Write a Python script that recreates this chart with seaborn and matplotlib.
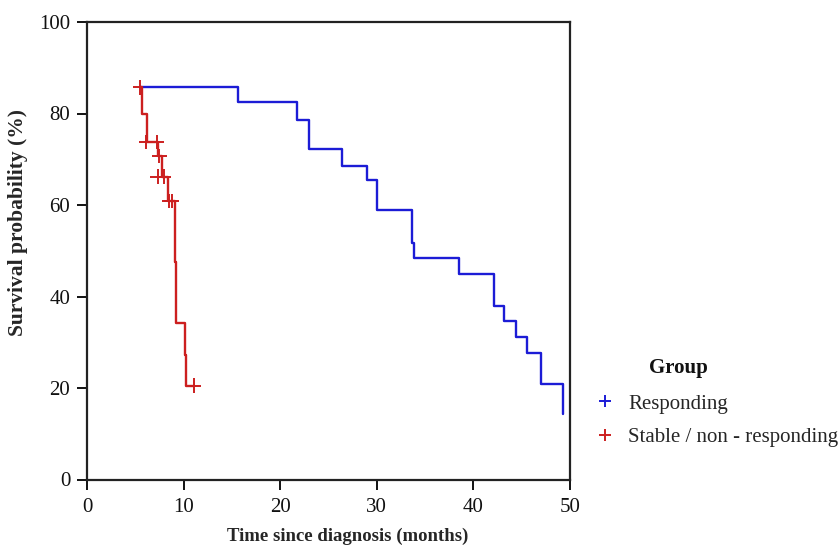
import numpy as np
import pandas as pd
import matplotlib
matplotlib.use("Agg")
import matplotlib.pyplot as plt
from matplotlib.lines import Line2D
import seaborn as sns

# ---- data ----
resp_time = [5.6, 15.6, 21.7, 23.0, 26.4, 29.0, 30.0, 33.6, 33.8, 38.5, 42.1, 43.2, 44.4, 45.5, 47.0, 49.3]
resp_surv = [85.7, 82.6, 78.6, 72.3, 68.6, 65.5, 58.8, 51.8, 48.4, 45.0, 38.0, 34.6, 31.1, 27.7, 20.9, 14.4]

stab_time = [5.5, 5.7, 6.2, 7.4, 7.75, 8.4, 9.1, 9.25, 10.1, 10.3, 11.05]
stab_surv = [85.7, 80.0, 73.8, 70.7, 66.2, 60.9, 47.6, 34.3, 27.2, 20.5, 20.5]

# censored observations (+ marks)
resp_cens_time = []
resp_cens_surv = []
stab_cens_time = [5.5, 6.1, 7.2, 7.5, 7.3, 7.95, 8.5, 8.75, 11.05]
stab_cens_surv = [85.7, 73.8, 73.8, 70.7, 66.2, 66.2, 60.9, 60.9, 20.5]

groups = ["Responding", "Stable / non - responding"]
colors = {"Responding": "#1c1cd6", "Stable / non - responding": "#cc1f1f"}

x_ticks = [0, 10, 20, 30, 40, 50]
y_ticks = [0, 20, 40, 60, 80, 100]

curve = pd.DataFrame({
    "time": resp_time + stab_time,
    "surv": resp_surv + stab_surv,
    "group": [groups[0]] * len(resp_time) + [groups[1]] * len(stab_time),
})
cens = pd.DataFrame({
    "time": resp_cens_time + stab_cens_time,
    "surv": resp_cens_surv + stab_cens_surv,
    "group": [groups[0]] * len(resp_cens_time) + [groups[1]] * len(stab_cens_time),
})

sns.set_style("white")
plt.rcParams["font.family"] = ["Liberation Serif", "DejaVu Serif"]

W, H = 838, 547
fig = plt.figure(figsize=(W / 100, H / 100), dpi=100)
ax = fig.add_axes([87 / W, 1 - 479.5 / H, (570 - 87) / W, (479.5 - 22) / H])

sns.lineplot(data=curve, x="time", y="surv", hue="group", hue_order=groups,
             palette=colors, estimator=None, sort=False, drawstyle="steps-post",
             linewidth=1.7, legend=False, ax=ax)
sns.scatterplot(data=cens, x="time", y="surv", hue="group", hue_order=groups,
                palette=colors, marker="+", s=110, linewidth=1.4, legend=False, ax=ax)

ax.set_xlim(0, 50)
ax.set_ylim(0, 100)
ax.set_xticks(x_ticks)
ax.set_yticks(y_ticks)
ax.tick_params(axis="both", direction="out", length=7, width=1.3, color="black",
               labelsize=15, bottom=True, left=True, labelcolor="#111111")
ax.tick_params(axis="y", pad=5)
ax.tick_params(axis="x", pad=6)
for s in ax.spines.values():
    s.set_visible(True)
    s.set_color("#222222")
    s.set_linewidth(1.6)

ax.set_xlabel("Time since diagnosis (months)", fontsize=13.5, fontweight="bold")
ax.xaxis.set_label_coords((348 - 87) / 483, -(536 - 479.5) / 457.5)
ax.xaxis.label.set_va("center")
ax.set_ylabel("Survival probability (%)", fontsize=15.5, fontweight="bold")
ax.yaxis.set_label_coords((28 - 87) / 483, (479.5 - 223) / 457.5)

handles = [Line2D([], [], marker="+", linestyle="none", color=colors[g],
                  markersize=9, markeredgewidth=1.4) for g in groups]
leg = fig.legend(handles, groups, loc="upper left",
                 bbox_to_anchor=(0.688 + 18 / W, 1 - 394 / H), frameon=False, fontsize=15,
                 handlelength=1.0, handletextpad=0.6, labelspacing=0.68,
                 borderaxespad=0, borderpad=0)
fig.text(678 / W, 1 - 368 / H, "Group", fontsize=15, fontweight="bold",
         ha="center", va="center", color="#111111")

fig.savefig("out.png", dpi=100)
